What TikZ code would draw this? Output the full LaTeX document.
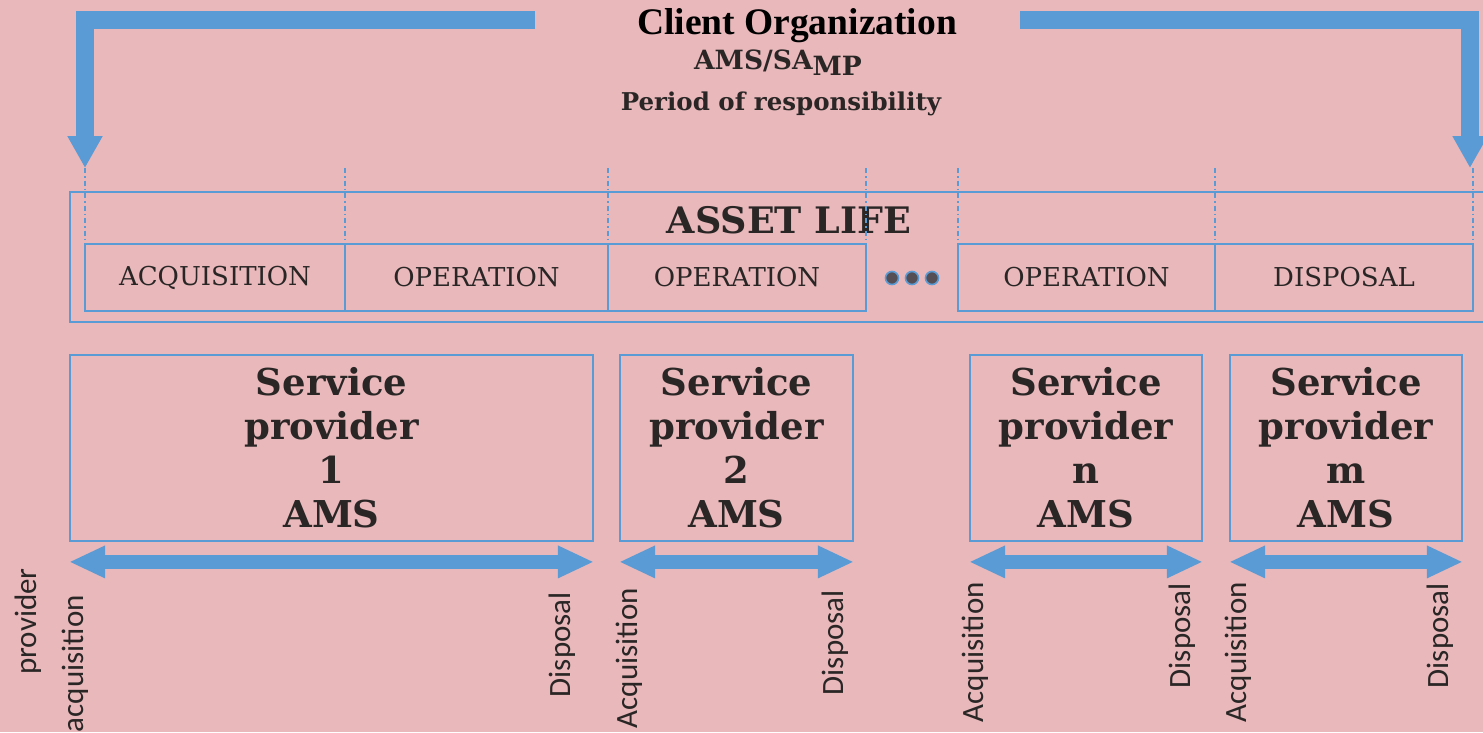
\documentclass[tikz,border=0pt]{standalone}
\usepackage{fontspec}
\setmainfont{DejaVu Serif}
\newfontfamily\calib{Carlito}
\newfontfamily\tnr{Liberation Serif}
\usetikzlibrary{arrows.meta,calc}
\definecolor{bg}{RGB}{232,184,187}
\definecolor{ablue}{RGB}{91,155,213}
\definecolor{txt}{RGB}{42,38,38}
\definecolor{dotfill}{RGB}{85,78,84}
\tikzset{
 boxline/.style={draw=ablue, line width=2pt},
 cell/.style={draw=ablue, line width=1.8pt, minimum height=67pt, inner sep=0pt, font=\fontsize{26}{30}\selectfont, text=txt},
 spbox/.style={draw=ablue, line width=1.8pt, minimum height=186pt, align=center, font=\bfseries\fontsize{37}{44}\selectfont, text=txt},
 vlab/.style={rotate=90, anchor=east, inner sep=0pt, font=\calib\fontsize{31}{31}\selectfont, text=txt},
 guide/.style={draw=ablue, line width=1.2pt, dash pattern=on 5pt off 3pt on 1.5pt off 3pt},
 bigarrow/.style={draw=ablue, line width=18pt, -{Triangle[width=33pt,length=32pt]}},
 dblarrow/.style={draw=ablue, line width=14pt, {Triangle[width=30pt,length=36pt]}-{Triangle[width=30pt,length=36pt]}},
 dotmark/.style={draw=ablue, fill=dotfill, line width=1.6pt, circle, minimum size=13pt, inner sep=0pt},
}
\begin{document}
\begin{tikzpicture}[x=1pt,y=-1pt]
\fill[bg] (0,0) rectangle (1483,732);
\useasboundingbox (0,0) rectangle (1483,732);

% titles
\node[font=\tnr\bfseries\fontsize{37.5}{40}\selectfont, text=black] (title) at (797,26) {Client Organization};
\node[font=\bfseries\fontsize{26.5}{28}\selectfont, text=txt] (amp) at (778,63) {AMS/SA\raisebox{-6pt}{MP}};
\node[font=\bfseries\fontsize{24.5}{28}\selectfont, text=txt] (period) at (781,104) {Period of responsibility};

% guide coordinates
\foreach \n/\x in {g1/85,g2/345,g3/608,g4/866,g5/958,g6/1215,g7/1473}{
  \coordinate (\n t) at (\x,168);
  \coordinate (\n b) at (\x,244);
}
\coordinate (la) at (535,20);
\coordinate (lc) at (85,20);
\coordinate (ra) at (1020,20);
\coordinate (rc) at (1470,20);
\coordinate (rt) at (1470,168);

% outer asset life box
\draw[boxline] (70,192) rectangle (1495,322);
\node[font=\bfseries\fontsize{36.5}{40}\selectfont, text=txt, anchor=base] (life) at (789,233) {ASSET LIFE};

% guides
\foreach \n in {g1,g2,g3,g4,g5,g6,g7}{ \draw[guide] (\n t) -- (\n b); }

% cells
\node[cell, minimum width=260pt] (c1) at (215,277.5) {ACQUISITION};
\node[cell, minimum width=263pt] (c2) at (476.5,277.5) {OPERATION};
\node[cell, minimum width=258pt] (c3) at (737,277.5) {OPERATION};
\node[cell, minimum width=257pt] (c4) at (1086.5,277.5) {OPERATION};
\node[cell, minimum width=258pt] (c5) at (1344,277.5) {DISPOSAL};
\node[dotmark] (d1) at (892,278) {};
\node[dotmark] (d2) at (912,278) {};
\node[dotmark] (d3) at (932,278) {};

% top arrows
\draw[bigarrow] (la) -- (lc) -- (g1t);
\draw[bigarrow] (ra) -- (rc) -- (rt);

% service provider boxes
\node[spbox, minimum width=523pt] (b1) at (331.5,448) {Service\\provider\\1\\AMS};
\node[spbox, minimum width=233pt] (b2) at (736.5,448) {Service\\provider\\2\\AMS};
\node[spbox, minimum width=232pt] (b3) at (1086,448) {Service\\provider\\n\\AMS};
\node[spbox, minimum width=232pt] (b4) at (1346,448) {Service\\provider\\m\\AMS};

% double arrows
\foreach \b in {b1,b2,b3,b4}{
  \coordinate (\b l) at ($(\b.south west)+(0,20)$);
  \coordinate (\b r) at ($(\b.south east)+(0,20)$);
  \draw[dblarrow] (\b l) -- (\b r);
}

% vertical labels
\node[vlab] (v0) at (28,568) {provider};
\node[vlab] (v1) at (75,595) {acquisition};
\node[vlab] (v2) at (562,592) {Disposal};
\node[vlab] (v3) at (629,588) {Acquisition};
\node[vlab] (v4) at (835,590) {Disposal};
\node[vlab] (v5) at (975,582) {Acquisition};
\node[vlab] (v6) at (1182,583) {Disposal};
\node[vlab] (v7) at (1238,582) {Acquisition};
\node[vlab] (v8) at (1440,583) {Disposal};
\end{tikzpicture}
\end{document}
